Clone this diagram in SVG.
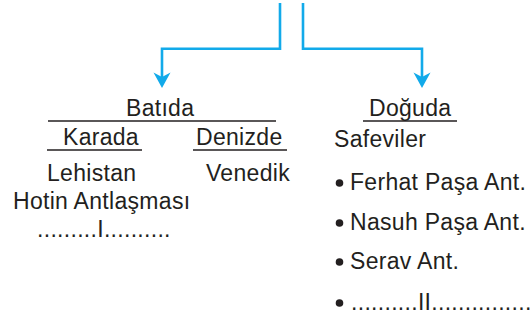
<svg xmlns="http://www.w3.org/2000/svg" width="531" height="325" viewBox="0 0 531 325">
<defs>
<style>
.t{font-family:"Liberation Sans",Arial,Helvetica,sans-serif;font-size:23px;fill:#231f20;letter-spacing:0.3px}
.u{stroke:#231f20;stroke-width:1.5;fill:none}
.c{stroke:#12aaea;stroke-width:2.6;fill:none}
.h{fill:#12aaea}
.b{fill:#231f20}
</style>
</defs>
<rect width="531" height="325" fill="#ffffff"/>
<g id="connectors">
<polyline class="c" points="280,3 280,48.7 162,48.7 162,78"/>
<polygon class="h" points="162,88 153.5,72.5 162,77 170.5,72.5"/>
<polyline class="c" points="303,3 303,48.7 422,48.7 422,78"/>
<polygon class="h" points="422,88 413.5,72.5 422,77 430.5,72.5"/>
</g>
<g id="batida">
<text class="t" x="126" y="116">Batıda</text>
<line class="u" x1="48" y1="121" x2="276" y2="121"/>
</g>
<g id="karada">
<text class="t" x="63" y="145">Karada</text>
<line class="u" x1="47" y1="150" x2="142" y2="150"/>
<text class="t" x="47" y="181">Lehistan</text>
<text class="t" x="13" y="209">Hotin Antlaşması</text>
<text class="t" x="37" y="237">.........I..........</text>
</g>
<g id="denizde">
<text class="t" x="196" y="145">Denizde</text>
<line class="u" x1="193" y1="150" x2="287" y2="150"/>
<text class="t" x="206" y="181">Venedik</text>
</g>
<g id="doguda">
<text class="t" x="369" y="116">Doğuda</text>
<line class="u" x1="363" y1="121" x2="457" y2="121"/>
<text class="t" x="334" y="147">Safeviler</text>
<circle class="b" cx="339.5" cy="183" r="3.8"/>
<text class="t" x="350" y="190">Ferhat Paşa Ant.</text>
<circle class="b" cx="339.5" cy="223" r="3.8"/>
<text class="t" x="350" y="230">Nasuh Paşa Ant.</text>
<circle class="b" cx="339.5" cy="262" r="3.8"/>
<text class="t" x="350" y="269">Serav Ant.</text>
<circle class="b" cx="339.5" cy="303" r="3.8"/>
<text class="t" x="351" y="310">..........II...............</text>
</g>
</svg>
